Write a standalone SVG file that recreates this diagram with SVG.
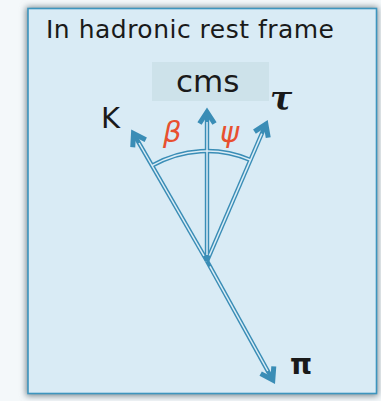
<svg xmlns="http://www.w3.org/2000/svg" width="381" height="401" viewBox="0 0 381 401">
<style>
.out{stroke:#3a8db6;stroke-width:4.4;fill:none}
.in{stroke:#dcedf6;stroke-width:1.5;fill:none}
.lbl{font-family:"DejaVu Sans","Liberation Sans",sans-serif;fill:#1a1a1a}
.gr{font-family:"DejaVu Sans","Liberation Sans",sans-serif;font-style:italic;fill:#e8502f;font-size:29px}
</style>
<defs>
<filter id="sh" x="-10%" y="-10%" width="120%" height="120%"><feGaussianBlur stdDeviation="3"/></filter>
<marker id="ah" markerUnits="userSpaceOnUse" markerWidth="30" markerHeight="30" viewBox="-15 -15 30 30" refX="0" refY="0" orient="auto" overflow="visible">
<path d="M-10.5,-7.5 L1,0 L-10.5,7.5" fill="none" stroke="#3a8db6" stroke-width="5" stroke-linejoin="miter"/>
</marker>
</defs>
<rect width="381" height="401" fill="#f4f8fa"/>
<rect x="26" y="7" width="352" height="389" fill="#7a8a92" filter="url(#sh)"/>
<g id="frame">
<rect x="28" y="8.5" width="348.5" height="385" fill="#d9ebf5" stroke="#3d95be" stroke-width="1.6"/>
<text class="lbl" x="46" y="38.3" font-size="25" textLength="288" lengthAdjust="spacing">In hadronic rest frame</text>
</g>
<g id="cms">
<rect x="152" y="62" width="117" height="39" fill="#cde2ea"/>
<text class="lbl" x="176" y="92.3" font-size="31">cms</text>
</g>
<g id="connectors">
<path class="out" d="M207,261 L134,134.4" marker-end="url(#ah)"/>
<path class="out" d="M207,261 L207,113" marker-end="url(#ah)"/>
<path class="out" d="M207,261 L265.5,125" marker-end="url(#ah)"/>
<path class="out" d="M207,261 L272.3,379.2" marker-end="url(#ah)"/>
<path class="out" d="M152,165.7 A110,110 0 0 1 250.5,160"/>
<path class="in" d="M204,255.8 L139,143"/>
<path class="in" d="M207,255 L207,122"/>
<path class="in" d="M209.4,255.5 L261.8,133.6"/>
<path class="in" d="M209.9,266.3 L267.8,371"/>
<path class="in" d="M152,165.7 A110,110 0 0 1 250.5,160"/>
</g>
<g id="K"><text class="lbl" x="101" y="128.3" font-size="29">K</text></g>
<g id="tau"><text x="270" y="110" font-family="DejaVu Serif, serif" font-style="italic" font-weight="bold" font-size="33" fill="#1a1a1a">τ</text></g>
<g id="beta"><text class="gr" x="163" y="141.5">β</text></g>
<g id="psi"><text class="gr" x="220" y="141.5">ψ</text></g>
<g id="pi"><text class="lbl" x="290" y="374.3" font-size="28" font-weight="bold">π</text></g>
</svg>
